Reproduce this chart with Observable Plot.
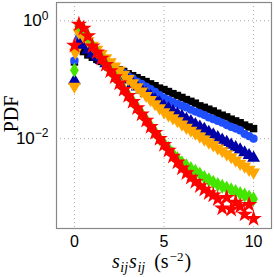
<!DOCTYPE html>
<html><head><meta charset="utf-8">
<script src="https://cdn.jsdelivr.net/npm/d3@7"></script>
<script src="https://cdn.jsdelivr.net/npm/@observablehq/plot@0.6"></script>
<style>body{margin:0;background:#fff;} svg{display:block}</style>
</head><body><div id="chart"></div>
<script>
const xs = [0,0.25,0.5,0.75,1,1.25,1.5,1.75,2,2.25,2.5,2.75,3,3.25,3.5,3.75,4,4.25,4.5,4.75,5,5.25,5.5,5.75,6,6.25,6.5,6.75,7,7.25,7.5,7.75,8,8.25,8.5,8.75,9,9.25,9.5,9.75,10];
const black = [0.2,0.355,0.30,0.263,0.24,0.221,0.204,0.188,0.174,0.162,0.148,0.138,0.126,0.117,0.108,0.100,0.093,0.085,0.079,0.072,0.068,0.063,0.058,0.054,0.050,0.046,0.043,0.040,0.036,0.034,0.0316,0.0295,0.027,0.025,0.0234,0.0214,0.020,0.0186,0.017,0.0158,0.0148];
const blue = [0.21,0.52,0.44,0.35,0.275,0.245,0.219,0.195,0.176,0.158,0.141,0.129,0.115,0.105,0.093,0.085,0.076,0.069,0.062,0.055,0.049,0.0457,0.0417,0.0389,0.0363,0.0339,0.0309,0.0288,0.0269,0.0251,0.0229,0.0214,0.020,0.0186,0.017,0.0158,0.0148,0.0138,0.0120,0.0110,0.0100];
const navy = [0.097,0.42,0.38,0.32,0.275,0.243,0.214,0.188,0.166,0.146,0.129,0.1135,0.100,0.087,0.076,0.0676,0.0589,0.0525,0.0457,0.0407,0.0355,0.0324,0.0288,0.0263,0.024,0.0214,0.0195,0.0174,0.0158,0.0145,0.0129,0.0117,0.0105,0.0095,0.0087,0.0078,0.0071,0.0065,0.0058,0.0052,0.0047];
const orange = [0.077,0.63,0.55,0.457,0.38,0.324,0.275,0.234,0.20,0.17,0.145,0.123,0.1035,0.088,0.075,0.0638,0.0537,0.0457,0.0389,0.0331,0.0282,0.0251,0.0224,0.020,0.0176,0.0155,0.0138,0.0123,0.011,0.0098,0.0087,0.0078,0.0069,0.0062,0.0055,0.0049,0.0043,0.0038,0.0034,0.0030,0.0027];
const orangeFirstX = [0.05];
const orangeFirstY = [0.29];
const green = [0.145,0.83,0.72,0.55,0.38,0.30,0.234,0.184,0.145,0.1135,0.089,0.070,0.055,0.0432,0.0339,0.0266,0.0209,0.0164,0.0129,0.0101,0.0083,0.0068,0.0055,0.0046,0.0039,0.00347,0.0031,0.0028,0.0025,0.0022,0.0020,0.00182,0.00166,0.00155,0.00145,0.00135,0.00126,0.00117,0.0011,0.00102,0.00095];
const red = [0.38,0.87,0.74,0.55,0.37,0.292,0.229,0.18,0.141,0.111,0.087,0.068,0.0537,0.0422,0.0331,0.026,0.0204,0.016,0.0126,0.010,0.0079,0.0063,0.005,0.004,0.00316,0.00263,0.00219,0.00186,0.00158,0.00138,0.0012,0.0011,0.00095,0.00066,0.0010,0.00063,0.00083,0.00071,0.00052,0.00076,0.00044];
const xTicks = [0,5,10];
const yTicks = [1,0.01];
const yTickExp = ["0","\u22122"];

const triDown = {draw(ctx, size){ const y = Math.sqrt(size/(3*Math.sqrt(3))); ctx.moveTo(0, 2*y); ctx.lineTo(-Math.sqrt(3)*y, -y); ctx.lineTo(Math.sqrt(3)*y, -y); ctx.closePath(); }};
const toRows = ys => xs.map((x,i)=>({x, y: ys[i]}));
const dotOpts = (sym, col, r) => ({x:"x", y:"y", symbol: sym, fill: col, stroke: "none", r});

const chart = Plot.plot({
  width: 274, height: 277,
  marginLeft: 56, marginRight: 3, marginTop: 2, marginBottom: 49,
  style: {fontFamily: "'Liberation Sans', Arial, sans-serif", background: "#fff", color: "#000"},
  x: {domain: [-1, 11], label: null},
  y: {type: "log", domain: [0.000299, 2.04], label: null},
  marks: [
    Plot.gridX(xTicks, {stroke: "#aaa", strokeOpacity: 1, strokeDasharray: "1,3"}),
    Plot.gridY(yTicks, {stroke: "#aaa", strokeOpacity: 1, strokeDasharray: "1,3"}),
    Plot.dot(toRows(black), dotOpts("square", "#000000", 4.2)),
    Plot.dot(toRows(blue), dotOpts("circle", "#1f4fff", 4.1)),
    Plot.dot(toRows(navy), dotOpts("triangle", "#0000a8", 4.8)),
    Plot.dot(toRows(orange), dotOpts(triDown, "#ffa500", 4.8)),
    Plot.dot(orangeFirstX.map((x,i)=>({x, y: orangeFirstY[i]})), dotOpts(triDown, "#ffa500", 4.8)),
    Plot.dot(toRows(green), dotOpts("diamond", "#44e600", 4.6)),
    Plot.dot(toRows(red), dotOpts("star", "#ff0000", 5.2)),
    Plot.frame({stroke: "#888", strokeWidth: 1.2}),
    Plot.axisX(xTicks, {tickSize: 0, tickPadding: 7, fontSize: 16, label: null}),
    Plot.axisY(yTicks, {tickSize: 0, tickPadding: 8, fontSize: 17, label: null, tickFormat: (d,i) => "10"})
  ]
});
document.getElementById("chart").appendChild(chart);
const svg = d3.select(chart);
svg.selectAll('g[aria-label="y-axis tick label"] text').each(function(d, i){
  const t = d3.select(this);
  t.text("10");
  t.append("tspan").attr("dy", "-0.55em").attr("font-size", 12).text(yTickExp[i]);
});
svg.append("text").attr("transform", "translate(18,114) rotate(-90)")
  .attr("text-anchor", "middle").attr("font-family", "'Liberation Serif', 'Times New Roman', serif")
  .attr("font-size", 20).attr("fill", "#000").text("PDF");
const xl = svg.append("text").attr("x", 112).attr("y", 268).attr("text-anchor", "start")
  .attr("font-family", "'Liberation Serif', 'Times New Roman', serif").attr("font-size", 20).attr("fill", "#000");
xl.append("tspan").attr("font-style", "italic").text("s");
xl.append("tspan").attr("font-style", "italic").attr("font-size", 14).attr("dy", 4).attr("dx", 0.5).text("ij");
xl.append("tspan").attr("font-style", "italic").attr("dy", -4).attr("dx", 1).text("s");
xl.append("tspan").attr("font-style", "italic").attr("font-size", 14).attr("dy", 4).attr("dx", 0.5).text("ij");
xl.append("tspan").attr("dy", -4).attr("dx", 9).text("(s");
xl.append("tspan").attr("font-size", 13).attr("dy", -7).attr("dx", 1).text("\u22122");
xl.append("tspan").attr("dy", 7).attr("dx", 1).text(")");
</script>
</body></html>
